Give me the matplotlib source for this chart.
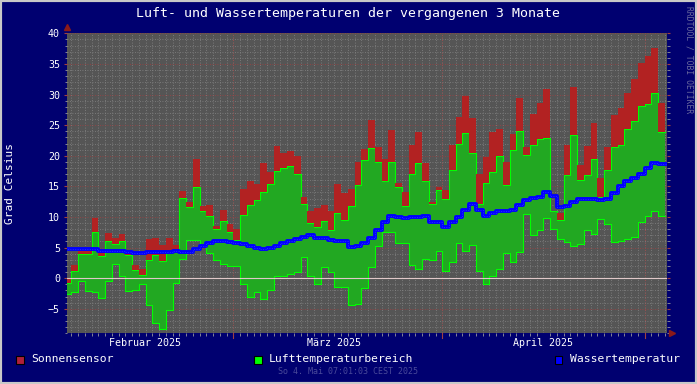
import numpy as np
import matplotlib
matplotlib.use("Agg")
import matplotlib.pyplot as plt
from matplotlib.patches import Rectangle

# Tageswerte 4. Feb .. 3. Mai 2025 (Tag 0 = 1. Februar)
first_day = 3
air_min = [-2.6, -2.2, -0.4, -2.1, -2.3, -3.3, -0.4, 2.3, 0.4, -2.1,
           -1.9, -1.0, -4.4, -7.3, -8.3, -5.2, -0.8, 3.1, 6.3, 6.3,
           5.4, 4.1, 2.9, 2.4, 2.0, 2.0, -0.9, -3.1, -2.2, -3.4,
           -1.9, 0.3, 0.3, 0.65, 1.0, 3.5, 0.4, -0.9, 1.9, 1.0,
           -1.5, -1.5, -4.4, -4.2, -1.6, 1.8, 5.2, 7.6, 7.6, 5.7,
           5.7, 2.1, 1.5, 3.2, 3.0, 4.4, 1.2, 2.7, 5.7, 4.5,
           5.4, 1.25, -1.0, 0.3, 1.5, 4.1, 2.7, 4.2, 10.5, 7.1,
           7.9, 9.9, 8.0, 6.4, 5.9, 5.2, 5.6, 7.9, 7.3, 9.6,
           8.9, 5.9, 6.1, 6.4, 6.8, 9.1, 10.2, 10.9, 10.1]
air_max = [-0.8, 1.2, 4.0, 4.0, 7.5, 3.6, 6.0, 5.6, 6.0, 3.8,
           1.4, 0.5, 3.0, 3.8, 2.8, 4.4, 4.6, 13.1, 11.7, 14.9,
           10.9, 10.1, 8.05, 9.3, 7.6, 6.3, 10.4, 12.0, 12.8, 14.0,
           15.4, 17.5, 18.0, 18.3, 17.0, 12.1, 9.0, 8.4, 9.4, 7.8,
           10.6, 9.5, 11.8, 15.2, 19.3, 21.2, 18.9, 15.9, 18.9, 14.9,
           11.8, 17.1, 18.8, 15.9, 12.2, 14.4, 12.9, 17.7, 21.9, 23.7,
           20.4, 12.2, 15.5, 17.4, 20.0, 15.3, 21.0, 24.1, 20.1, 21.8,
           22.7, 22.9, 11.0, 9.5, 16.9, 23.4, 16.1, 16.9, 19.4, 13.3,
           17.6, 21.5, 21.8, 24.3, 25.7, 28.1, 28.5, 30.2, 23.9]
sun_max = [-0.1, 2.1, 5.0, 4.6, 9.9, 4.7, 7.4, 6.5, 7.3, 4.1,
           2.2, 1.5, 6.4, 6.5, 5.4, 6.6, 5.4, 14.3, 12.5, 19.4,
           11.8, 11.9, 8.5, 11.2, 8.9, 8.05, 14.5, 15.8, 15.4, 18.8,
           17.3, 21.6, 20.4, 20.7, 20.0, 13.2, 10.9, 11.4, 11.9, 10.9,
           15.4, 13.9, 14.6, 18.9, 21.1, 25.9, 21.4, 19.4, 24.2, 15.5,
           14.0, 21.8, 23.9, 18.8, 12.5, 14.9, 14.4, 21.8, 26.3, 29.8,
           26.1, 17.0, 19.8, 23.9, 24.3, 19.0, 23.6, 29.4, 21.5, 26.8,
           28.6, 30.9, 11.0, 10.7, 21.8, 31.2, 18.5, 21.6, 25.3, 16.4,
           21.4, 26.7, 27.8, 30.2, 32.5, 35.2, 36.3, 37.6, 28.6]
water = [4.7, 4.7, 4.7, 4.7, 4.7, 4.5, 4.4, 4.4, 4.4, 4.25,
         4.1, 4.1, 4.35, 4.35, 4.35, 4.35, 4.5, 4.3, 4.3, 4.8,
         5.3, 5.8, 6.1, 6.1, 5.9, 5.7, 5.55, 5.3, 5.0, 4.85,
         5.0, 5.3, 5.7, 6.1, 6.4, 6.8, 7.0, 6.6, 6.5, 6.25,
         6.0, 6.0, 5.1, 5.2, 5.7, 6.5, 7.9, 9.1, 10.2, 10.0,
         9.8, 10.0, 10.0, 10.1, 9.1, 9.1, 8.4, 9.1, 10.0, 11.2,
         12.2, 11.2, 10.1, 10.6, 10.9, 10.9, 11.2, 12.0, 12.7, 13.1,
         13.3, 14.1, 13.4, 11.7, 11.8, 12.5, 12.9, 12.9, 12.9, 12.8,
         12.9, 13.9, 15.0, 15.8, 16.3, 17.0, 18.0, 18.8, 18.6]

month_starts = [28, 59, 89]
month_labels = ["Februar 2025", "März 2025", "April 2025"]
month_label_pos = [14.9, 42.9, 74.0]
x_start, x_end = 3.29, 92.29

W, H = 697, 384
navy = "#000070"
mono = "DejaVu Sans Mono"

fig = plt.figure(figsize=(W / 100, H / 100), dpi=100, facecolor=navy)
ax = fig.add_axes([66.7 / W, 1 - 333.3 / H, 600 / W, 300 / H])
ax.set_facecolor("#555555")

n = len(air_min)
xe = np.arange(first_day, first_day + n + 1)
def ext(a):
    a = np.asarray(a, float)
    return np.append(a, a[-1])
lo, hi, sun = ext(air_min), ext(air_max), ext(sun_max)

# grid
for d in range(4, 93):
    ax.axvline(d, color="#858585", lw=0.6, ls=(0, (1, 2)), zorder=1)
for v in range(-9, 41):
    if v % 5:
        ax.axhline(v, color="#858585", lw=0.6, ls=(0, (1, 2)), zorder=1)
for v in range(-5, 41, 5):
    ax.axhline(v, color="#a04040", lw=0.6, ls=(0, (1, 2)), zorder=1)
for m in month_starts:
    ax.axvline(m, color="#a04040", lw=0.6, ls=(0, (1, 2)), zorder=1)
    ax.plot([m, m], [-0.015, 0], transform=ax.get_xaxis_transform(),
            color="#a04040", lw=0.8, clip_on=False)

# Lufttemperaturbereich + Sonnensensor
ax.fill_between(xe, lo, hi, step="post", color="#22a822", lw=0, zorder=2)
ax.step(xe, hi, where="post", color="#00ff00", lw=0.8, zorder=3)
ax.step(xe, lo, where="post", color="#00ff00", lw=0.8, zorder=3)
ax.fill_between(xe, hi, np.maximum(sun, hi), step="post", color="#b22222",
                lw=0, zorder=4)

ax.axhline(0, color="#e0c8c8", lw=0.8, zorder=5)

# Wassertemperatur
wx = np.append(xe, x_end)
wy = np.append(ext(water), water[-1])
ax.step(wx, wy, where="post", color="#0000ff", lw=2.8, zorder=6)
ax.step(wx, wy, where="post", color="#2a2aff", lw=0.7, ls=(0, (1, 1.5)), zorder=7)

ax.set_xlim(x_start, x_end)
ax.set_ylim(-9, 40)
for s in ax.spines.values():
    s.set_visible(False)

ax.set_yticks(range(-5, 41, 5))
ax.set_yticks(range(-9, 41), minor=True)
ax.set_xticks(month_label_pos)
ax.set_xticklabels(month_labels)
ax.set_xticks(range(4, 93), minor=True)
ax.tick_params(axis="y", which="major", length=2.5, color="#a04040", pad=2.4,
               labelsize=7.2, labelcolor="white", right=True)
ax.tick_params(axis="y", which="minor", length=1.8, color="#9a9a9a", right=True)
ax.tick_params(axis="x", which="major", length=0, pad=3.6, labelsize=7.2,
               labelcolor="white")
ax.tick_params(axis="x", which="minor", length=1.8, color="#9a9a9a")
for lab in ax.get_xticklabels() + ax.get_yticklabels():
    lab.set_family(mono)

# Pfeile an den Achsen
ax.plot([0], [1.02], marker="^", ms=4, color="#8b1a1a", transform=ax.transAxes,
        clip_on=False)
ax.plot([1.008], [0], marker=">", ms=4, color="#8b1a1a", transform=ax.transAxes,
        clip_on=False)

def fx(x):
    return x / W
def fy(y):
    return 1 - y / H

fig.text(fx(348), fy(14), "Luft- und Wassertemperaturen der vergangenen 3 Monate",
         ha="center", va="center", color="white", fontsize=9.5, family=mono)
fig.text(fx(10.5), fy(183), "Grad Celsius", rotation=90, ha="center", va="center",
         color="white", fontsize=8, family=mono)
fig.text(fx(689), fy(60), "RRDTOOL / TOBI OETIKER", rotation=270, ha="center",
         va="center", color="#6a6a9e", fontsize=5.8, family=mono)
fig.text(fx(348), fy(372), "So 4. Mai 07:01:03 CEST 2025", ha="center",
         va="center", color="#4a4a9a", fontsize=6, family=mono)

legend = [(16, "#b0203a", "Sonnensensor"),
          (254, "#00ff00", "Lufttemperaturbereich"),
          (554.5, "#0000ff", "Wassertemperatur")]
for x0, c, t in legend:
    fig.patches.append(Rectangle((fx(x0), fy(364)), 7.5 / W, 8.5 / H,
                                 transform=fig.transFigure, facecolor=c,
                                 edgecolor="black", lw=0.8))
    fig.text(fx(x0 + 15), fy(359), t, ha="left", va="center", color="white",
             fontsize=8.2, family=mono)

fig.patches.append(Rectangle((0, 0), 1, 1, transform=fig.transFigure, fill=False,
                             edgecolor="#c8c8c8", lw=3))

fig.savefig("out.png", dpi=100, facecolor=navy)
